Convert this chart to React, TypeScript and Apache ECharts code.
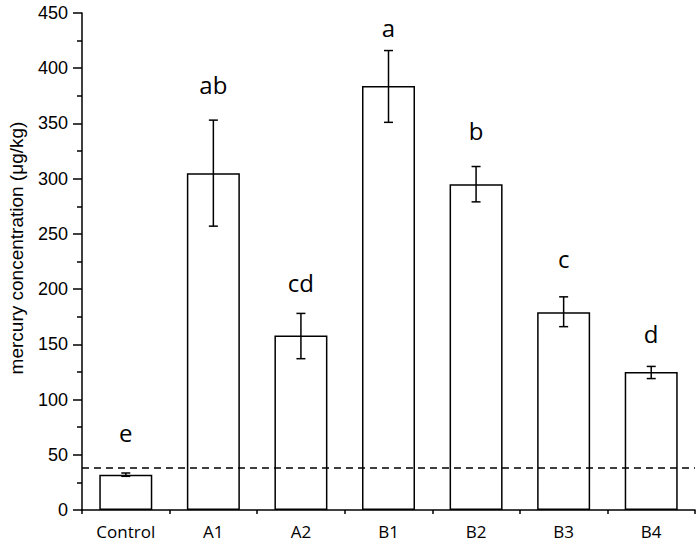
import React, { useEffect, useRef } from "react";
import * as echarts from "echarts";

const categories = ["Control", "A1", "A2", "B1", "B2", "B3", "B4"];
const means = [32, 305, 158, 384, 295, 179, 125];
const errLow = [30.5, 257, 137, 351, 279, 166, 119];
const errHigh = [33.5, 353, 178, 416, 311, 193, 130];
const letters = ["e", "ab", "cd", "a", "b", "c", "d"];
const letterY = [70, 385, 206, 437, 344, 228, 160];
const threshold = 38;
const yTicks = [0, 50, 100, 150, 200, 250, 300, 350, 400, 450];
const yTitle = "mercury concentration (μg/kg)";

export default function App() {
  const ref = useRef<HTMLDivElement>(null);
  useEffect(() => {
    if (!ref.current) return;
    const chart = echarts.init(ref.current, null, { renderer: "svg" });
    const axisColor = "#000";
    chart.setOption({
      animation: false,
      backgroundColor: "#fff",
      grid: { left: 82, right: 5, top: 13, bottom: 35, containLabel: false },
      graphic: [
        {
          type: "text",
          x: 16,
          y: 248,
          rotation: Math.PI / 2,
          style: {
            text: yTitle,
            fontSize: 19,
            fontFamily: "Liberation Sans",
            fill: "#000",
            align: "center",
            verticalAlign: "middle",
          },
        },
      ],
      xAxis: [
        {
          type: "category",
          data: categories,
          boundaryGap: true,
          axisLine: { lineStyle: { color: axisColor, width: 1.5 } },
          axisTick: { alignWithLabel: true, length: 8, lineStyle: { color: axisColor, width: 1.5 } },
          axisLabel: {
            color: "#000",
            fontSize: 17,
            fontFamily: "Open Sans",
            margin: 13,
          },
          splitLine: { show: false },
        },
        {
          type: "category",
          data: categories,
          boundaryGap: true,
          position: "bottom",
          axisLine: { show: false },
          axisTick: { show: true, length: 4, lineStyle: { color: axisColor, width: 1.5 } },
          axisLabel: { show: false },
          splitLine: { show: false },
        },
      ],
      yAxis: {
        type: "value",
        min: yTicks[0],
        max: yTicks[yTicks.length - 1],
        interval: 50,
        axisLine: { show: true, lineStyle: { color: axisColor, width: 1.5 } },
        axisTick: { show: true, length: 9, lineStyle: { color: axisColor, width: 1.5 } },
        minorTick: { show: true, splitNumber: 2, length: 5, lineStyle: { color: axisColor, width: 1.5 } },
        axisLabel: { color: "#000", fontSize: 18, fontFamily: "Liberation Sans", margin: 14 },
        splitLine: { show: false },
      },
      series: [
        {
          type: "bar",
          data: means,
          barWidth: 53,
          itemStyle: { color: "#fff", borderColor: "#000", borderWidth: 1.5 },
          markLine: {
            silent: true,
            symbol: ["none", "none"],
            label: { show: false },
            lineStyle: { color: "#000", type: [7, 5], width: 1.5 },
            data: [{ yAxis: threshold }],
          },
          z: 2,
        },
        {
          type: "custom",
          data: categories.map((c, i) => [i, errLow[i], errHigh[i]]),
          renderItem: (params: any, api: any) => {
            const x = api.value(0);
            const lo = api.coord([x, api.value(1)]);
            const hi = api.coord([x, api.value(2)]);
            const cap = 4.5;
            const style = { stroke: "#000", lineWidth: 1.5 };
            return {
              type: "group",
              children: [
                { type: "line", shape: { x1: hi[0], y1: hi[1], x2: lo[0], y2: lo[1] }, style },
                { type: "line", shape: { x1: hi[0] - cap, y1: hi[1], x2: hi[0] + cap, y2: hi[1] }, style },
                { type: "line", shape: { x1: lo[0] - cap, y1: lo[1], x2: lo[0] + cap, y2: lo[1] }, style },
              ],
            };
          },
          z: 3,
        },
        {
          type: "scatter",
          symbolSize: 0,
          itemStyle: { opacity: 1 },
          data: categories.map((c, i) => [i, letterY[i]]),
          label: {
            show: true,
            position: "inside",
            formatter: (p: any) => letters[p.dataIndex],
            fontSize: 24,
            fontFamily: "Open Sans",
            color: "#000",
            opacity: 1,
            textBorderWidth: 0,
          },
          emphasis: { disabled: true },
          z: 4,
        },
      ],
    });
    return () => chart.dispose();
  }, []);
  return <div ref={ref} style={{ width: 700, height: 545, position: "absolute", left: 0, top: 0 }} />;
}
